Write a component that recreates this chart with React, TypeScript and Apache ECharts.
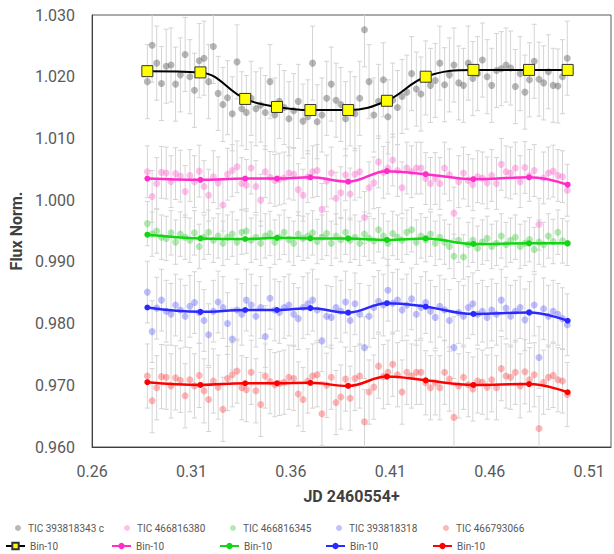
import React, { useEffect, useRef } from "react";
import * as echarts from "echarts";

const TIMES = [
  0.2878, 0.2902, 0.2925, 0.2949, 0.2973, 0.2997, 0.3020, 0.3044, 0.3068, 0.3092,
  0.3115, 0.3139, 0.3163, 0.3186, 0.3210, 0.3234, 0.3258, 0.3281, 0.3305, 0.3329,
  0.3353, 0.3376, 0.3400, 0.3424, 0.3448, 0.3471, 0.3495, 0.3519, 0.3542, 0.3566,
  0.3590, 0.3614, 0.3637, 0.3661, 0.3685, 0.3709, 0.3732, 0.3756, 0.3780, 0.3803,
  0.3827, 0.3851, 0.3875, 0.3898, 0.3922, 0.3946, 0.3970, 0.3993, 0.4017, 0.4041,
  0.4065, 0.4088, 0.4112, 0.4136, 0.4159, 0.4183, 0.4207, 0.4231, 0.4254, 0.4278,
  0.4302, 0.4326, 0.4349, 0.4373, 0.4397, 0.4420, 0.4444, 0.4468, 0.4492, 0.4515,
  0.4539, 0.4563, 0.4587, 0.4610, 0.4634, 0.4658, 0.4682, 0.4705, 0.4729, 0.4753,
  0.4777, 0.4800, 0.4824, 0.4848, 0.4871, 0.4895, 0.4919, 0.4943, 0.4966, 0.4990,
];

const FLUX_393818343 = [
  1.0192, 1.0251, 1.0222, 1.0189, 1.0217, 1.0219, 1.0188, 1.0203, 1.0236, 1.0200,
  1.0178, 1.0226, 1.0230, 1.0192, 1.0249, 1.0173, 1.0155, 1.0166, 1.0140, 1.0224,
  1.0148, 1.0142, 1.0165, 1.0148, 1.0154, 1.0142, 1.0192, 1.0138, 1.0160, 1.0150,
  1.0132, 1.0145, 1.0160, 1.0128, 1.0135, 1.0222, 1.0127, 1.0138, 1.0165, 1.0188,
  1.0162, 1.0155, 1.0132, 1.0148, 1.0140, 1.0165, 1.0276, 1.0192, 1.0138, 1.0160,
  1.0195, 1.0135, 1.0162, 1.0150, 1.0168, 1.0175, 1.0205, 1.0180, 1.0172, 1.0198,
  1.0186, 1.0194, 1.0222, 1.0187, 1.0203, 1.0219, 1.0190, 1.0186, 1.0222, 1.0197,
  1.0205, 1.0227, 1.0200, 1.0186, 1.0210, 1.0213, 1.0219, 1.0214, 1.0184, 1.0205,
  1.0175, 1.0195, 1.0225, 1.0196, 1.0190, 1.0208, 1.0186, 1.0185, 1.0200, 1.0230,
];

const FLUX_466816380 = [
  1.0046, 1.0006, 1.0027, 1.0045, 1.0044, 1.0030, 1.0043, 1.0039, 1.0014, 1.0040,
  1.0030, 1.0047, 1.0022, 1.0008, 1.0038, 1.0028, 0.9992, 1.0042, 1.0048, 1.0054,
  1.0027, 1.0024, 1.0052, 1.0022, 1.0000, 1.0046, 1.0037, 1.0032, 1.0034, 1.0036,
  1.0044, 1.0042, 1.0017, 1.0008, 1.0038, 1.0046, 1.0048, 0.9985, 1.0031, 1.0044,
  1.0003, 1.0012, 1.0041, 1.0010, 1.0042, 1.0046, 0.9972, 1.0020, 1.0028, 1.0062,
  1.0045, 1.0052, 1.0065, 1.0048, 1.0020, 1.0052, 1.0046, 1.0052, 1.0052, 1.0035,
  1.0027, 1.0035, 1.0027, 1.0052, 1.0041, 0.9979, 1.0030, 1.0044, 1.0032, 1.0025,
  1.0038, 1.0036, 1.0028, 1.0040, 1.0027, 1.0058, 1.0046, 1.0044, 1.0052, 1.0030,
  1.0053, 1.0040, 1.0048, 0.9961, 1.0036, 1.0044, 1.0047, 1.0040, 1.0038, 1.0016,
];

const FLUX_466816345 = [
  0.9962, 0.9945, 0.9950, 0.9940, 0.9938, 0.9947, 0.9932, 0.9945, 0.9940, 0.9935,
  0.9947, 0.9925, 0.9940, 0.9948, 0.9935, 0.9942, 0.9930, 0.9940, 0.9945, 0.9932,
  0.9948, 0.9950, 0.9935, 0.9940, 0.9930, 0.9942, 0.9946, 0.9932, 0.9940, 0.9948,
  0.9936, 0.9930, 0.9945, 0.9938, 0.9942, 0.9947, 0.9933, 0.9940, 0.9946, 0.9930,
  0.9942, 0.9936, 0.9948, 0.9935, 0.9940, 0.9930, 0.9945, 0.9938, 0.9934, 0.9952,
  0.9942, 0.9930, 0.9946, 0.9940, 0.9935, 0.9948, 0.9952, 0.9932, 0.9942, 0.9936,
  0.9945, 0.9930, 0.9940, 0.9932, 0.9925, 0.9909, 0.9935, 0.9908, 0.9928, 0.9935,
  0.9922, 0.9932, 0.9938, 0.9925, 0.9930, 0.9942, 0.9928, 0.9935, 0.9940, 0.9925,
  0.9930, 0.9936, 0.9920, 0.9932, 0.9928, 0.9942, 0.9933, 0.9948, 0.9934, 0.9930,
];

const FLUX_393818318 = [
  0.9851, 0.9787, 0.9825, 0.9838, 0.9820, 0.9815, 0.9830, 0.9822, 0.9812, 0.9828,
  0.9834, 0.9818, 0.9805, 0.9782, 0.9820, 0.9835, 0.9826, 0.9800, 0.9775, 0.9822,
  0.9815, 0.9838, 0.9830, 0.9812, 0.9826, 0.9779, 0.9841, 0.9822, 0.9818, 0.9826,
  0.9830, 0.9815, 0.9808, 0.9826, 0.9832, 0.9838, 0.9822, 0.9772, 0.9812, 0.9810,
  0.9826, 0.9820, 0.9835, 0.9805, 0.9832, 0.9815, 0.9761, 0.9812, 0.9826, 0.9836,
  0.9830, 0.9854, 0.9833, 0.9838, 0.9822, 0.9830, 0.9840, 0.9815, 0.9826, 0.9834,
  0.9820, 0.9810, 0.9828, 0.9822, 0.9805, 0.9761, 0.9818, 0.9812, 0.9826, 0.9832,
  0.9815, 0.9820, 0.9810, 0.9822, 0.9815, 0.9838, 0.9825, 0.9812, 0.9820, 0.9826,
  0.9806, 0.9818, 0.9830, 0.9745, 0.9824, 0.9812, 0.9820, 0.9815, 0.9808, 0.9798,
];

const FLUX_466793066 = [
  0.9715, 0.9675, 0.9696, 0.9714, 0.9713, 0.9699, 0.9712, 0.9708, 0.9683, 0.9709,
  0.9699, 0.9716, 0.9691, 0.9677, 0.9707, 0.9697, 0.9661, 0.9711, 0.9717, 0.9723,
  0.9696, 0.9693, 0.9721, 0.9691, 0.9669, 0.9715, 0.9706, 0.9701, 0.9703, 0.9705,
  0.9713, 0.9711, 0.9686, 0.9677, 0.9707, 0.9715, 0.9717, 0.9654, 0.9700, 0.9713,
  0.9672, 0.9681, 0.9710, 0.9679, 0.9711, 0.9715, 0.9641, 0.9689, 0.9697, 0.9731,
  0.9714, 0.9721, 0.9734, 0.9717, 0.9689, 0.9721, 0.9715, 0.9721, 0.9721, 0.9704,
  0.9696, 0.9704, 0.9696, 0.9721, 0.9710, 0.9648, 0.9699, 0.9713, 0.9701, 0.9694,
  0.9707, 0.9705, 0.9697, 0.9709, 0.9696, 0.9727, 0.9715, 0.9713, 0.9721, 0.9699,
  0.9722, 0.9709, 0.9717, 0.9630, 0.9705, 0.9713, 0.9716, 0.9709, 0.9707, 0.9685,
];

// one-sigma error of each star's points
const ERRORS = [0.006, 0.0042, 0.0036, 0.005, 0.0052];

const BIN_TIMES = [0.2878, 0.3145, 0.337, 0.353, 0.3698, 0.3888, 0.4083, 0.4278, 0.4518, 0.4798, 0.4992];
const BIN_393818343 = [1.0209, 1.0207, 1.0164, 1.0151, 1.0146, 1.0146, 1.0161, 1.0200, 1.0211, 1.0211, 1.0211];
const BIN_466816380 = [1.0035, 1.0033, 1.0035, 1.0035, 1.0037, 1.0030, 1.0047, 1.0042, 1.0034, 1.0037, 1.0025];
const BIN_466816345 = [0.9944, 0.9938, 0.9937, 0.9939, 0.9938, 0.9938, 0.99355, 0.9938, 0.9929, 0.9930, 0.9930];
const BIN_393818318 = [0.9826, 0.9819, 0.9822, 0.9822, 0.9825, 0.98177, 0.9833, 0.98274, 0.98156, 0.9818, 0.98046];
const BIN_466793066 = [0.9705, 0.97006, 0.97033, 0.97033, 0.9704, 0.9699, 0.97141, 0.9708, 0.97006, 0.9702, 0.96887];

const STAR_NAMES = ["TIC 393818343 c", "TIC 466816380", "TIC 466816345", "TIC 393818318", "TIC 466793066"];
const BIN_LABEL = "Bin-10";

const X_TICKS = [0.26, 0.31, 0.36, 0.41, 0.46, 0.51];

const FONT = 'Roboto, "Liberation Sans", Arial, sans-serif';

export default function App() {
  const ref = useRef<HTMLDivElement>(null);

  useEffect(() => {
    if (!ref.current) return;
    const chart = echarts.init(ref.current, undefined, { renderer: "svg" });

    const fluxes = [FLUX_393818343, FLUX_466816380, FLUX_466816345, FLUX_393818318, FLUX_466793066];
    const bins = [BIN_393818343, BIN_466816380, BIN_466816345, BIN_393818318, BIN_466793066];
    const dotColors = [
      "rgba(90,90,90,0.55)",
      "rgba(255,80,200,0.45)",
      "rgba(40,200,40,0.45)",
      "rgba(60,60,255,0.4)",
      "rgba(255,40,40,0.42)",
    ];
    const lineColors = ["#000000", "#ff2ec8", "#11d611", "#2a2aff", "#ff0000"];

    const errData: number[][] = [];
    fluxes.forEach((arr, s) => {
      arr.forEach((v, i) => errData.push([TIMES[i], v, ERRORS[s]]));
    });

    const binNames = STAR_NAMES.map((n) => `${BIN_LABEL} (${n})`);

    const series: any[] = [];
    series.push({
      type: "custom",
      name: "errors",
      data: errData,
      encode: { x: 0, y: 1 },
      clip: true,
      z: 1,
      silent: true,
      renderItem: (params: any, api: any) => {
        const x = api.value(0);
        const y = api.value(1);
        const e = api.value(2);
        const top = api.coord([x, y + e]);
        const bot = api.coord([x, y - e]);
        const h = 2.5;
        const style = { stroke: "#d4d4d4", lineWidth: 1 };
        return {
          type: "group",
          children: [
            { type: "line", shape: { x1: top[0], y1: top[1], x2: bot[0], y2: bot[1] }, style },
            { type: "line", shape: { x1: top[0] - h, y1: top[1], x2: top[0] + h, y2: top[1] }, style },
            { type: "line", shape: { x1: bot[0] - h, y1: bot[1], x2: bot[0] + h, y2: bot[1] }, style },
          ],
        };
      },
    });

    fluxes.forEach((arr, s) => {
      series.push({
        type: "scatter",
        name: STAR_NAMES[s],
        data: arr.map((v, i) => [TIMES[i], v]),
        symbol: "circle",
        symbolSize: 7,
        itemStyle: { color: dotColors[s] },
        z: 2,
      });
    });

    bins.forEach((arr, s) => {
      const isMain = s === 0;
      series.push({
        type: "line",
        name: binNames[s],
        data: arr.map((v, i) => [BIN_TIMES[i], v]),
        smooth: 0.4,
        showSymbol: true,
        symbol: isMain ? "rect" : "circle",
        symbolSize: isMain ? 11 : 6,
        lineStyle: { color: lineColors[s], width: isMain ? 2 : 2.5 },
        itemStyle: isMain
          ? { color: "#ffff00", borderColor: "#333333", borderWidth: 1 }
          : { color: lineColors[s], borderWidth: 0 },
        z: 3,
      });
    });

    const row1Left = [15, 124, 230, 336, 443];
    const row2Left = [5, 111, 219, 325, 432];
    const legends: any[] = [];
    STAR_NAMES.forEach((n, s) => {
      legends.push({
        data: [n],
        left: row1Left[s],
        top: 523,
        padding: 0,
        itemWidth: 10,
        itemHeight: 6,
        selectedMode: false,
        textStyle: { fontSize: 10, color: "#595959", fontFamily: FONT },
      });
    });
    binNames.forEach((n, s) => {
      legends.push({
        data: [n],
        left: row2Left[s],
        top: 541,
        padding: 0,
        itemWidth: 19,
        itemHeight: 8,
        selectedMode: false,
        formatter: () => BIN_LABEL,
        textStyle: { fontSize: 10, color: "#595959", fontFamily: FONT },
      });
    });

    chart.setOption({
      animation: false,
      backgroundColor: "#ffffff",
      textStyle: { fontFamily: FONT },
      grid: {
        left: 90,
        top: 15,
        width: 521,
        height: 432,
        show: true,
        borderColor: "#595959",
        borderWidth: 1,
        containLabel: false,
      },
      legend: legends,
      xAxis: {
        type: "value",
        min: 0.26,
        max: 0.521,
        interval: 0.05,
        name: "JD 2460554+",
        nameLocation: "middle",
        nameGap: 41,
        nameTextStyle: { fontSize: 16, fontWeight: "bold", color: "#404040", fontFamily: FONT },
        axisLine: { show: true, lineStyle: { color: "#404040", width: 1 } },
        axisTick: { show: false },
        splitLine: { show: false },
        axisLabel: {
          fontSize: 16,
          color: "#595959",
          margin: 16,
          fontFamily: FONT,
          formatter: (v: number) => {
            const hit = X_TICKS.find((t) => Math.abs(t - v) < 1e-6);
            return hit !== undefined ? hit.toFixed(2) : "";
          },
        },
      },
      yAxis: {
        type: "value",
        min: 0.96,
        max: 1.03,
        interval: 0.01,
        name: "Flux Norm.",
        nameLocation: "middle",
        nameGap: 66,
        nameTextStyle: { fontSize: 16, fontWeight: "bold", color: "#404040", fontFamily: FONT },
        axisLine: { show: true, lineStyle: { color: "#404040", width: 1 } },
        axisTick: { show: false },
        splitLine: { show: false },
        axisLabel: {
          fontSize: 16,
          color: "#595959",
          margin: 17,
          fontFamily: FONT,
          formatter: (v: number) => v.toFixed(3),
        },
      },
      series,
    });

    return () => chart.dispose();
  }, []);

  return (
    <div
      ref={ref}
      style={{ position: "absolute", left: 0, top: 0, width: 614, height: 554, background: "#fff" }}
    />
  );
}
